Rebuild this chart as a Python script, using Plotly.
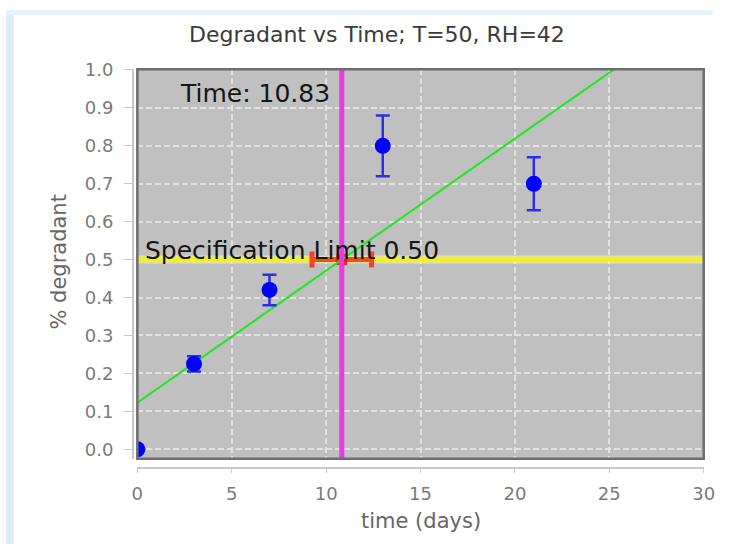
import plotly.graph_objects as go

# Stability study: degradant measured over time (T=50, RH=42)
time_days = [0, 3, 7, 13, 21]
degradant = [0.0, 0.225, 0.42, 0.80, 0.70]
degradant_err = [0.0, 0.02, 0.04, 0.08, 0.07]

# Linear trend through the measurements (endpoints of the fitted line)
fit_time = [0, 30]
fit_degradant = [0.123, 1.167]

# Specification limit and the time at which the trend crosses it
spec_limit = 0.50
cross_time = 10.83
cross_time_err = 1.58

x_ticks = [0, 5, 10, 15, 20, 25, 30]
y_ticks = [0.0, 0.1, 0.2, 0.3, 0.4, 0.5, 0.6, 0.7, 0.8, 0.9, 1.0]

# figure kept a little smaller than the 732x553 page so it never overflows;
# everything to the right/bottom of it is plain white anyway
W, H = 724, 545
FONT = "DejaVu Sans"


def px_x(v):
    """pixel column -> paper fraction"""
    return v / W


def px_y(v):
    """pixel row -> paper fraction"""
    return 1 - v / H


fig = go.Figure()

# specification limit band
fig.add_trace(go.Scatter(
    x=[x_ticks[0], x_ticks[-1]], y=[spec_limit, spec_limit], mode="lines",
    line=dict(color="rgba(248,248,150,0.6)", width=8), hoverinfo="skip",
    showlegend=False))
fig.add_trace(go.Scatter(
    x=[x_ticks[0], x_ticks[-1]], y=[spec_limit, spec_limit], mode="lines",
    line=dict(color="#f4f01c", width=3.5), hoverinfo="skip", showlegend=False))

# crossing point with its uncertainty in time
fig.add_trace(go.Scatter(
    x=[cross_time], y=[spec_limit], mode="markers",
    marker=dict(symbol="square", size=11, color="rgba(255,0,0,0.85)"),
    error_x=dict(type="data", array=[cross_time_err], color="rgba(255,20,0,0.75)",
                 thickness=5, width=8),
    showlegend=False))

# fitted trend
fig.add_trace(go.Scatter(
    x=fit_time, y=fit_degradant, mode="lines",
    line=dict(color="#1ee81e", width=2), showlegend=False))

# measurements
fig.add_trace(go.Scatter(
    x=time_days, y=degradant, mode="markers",
    marker=dict(size=16, color="#0000ff"),
    error_y=dict(type="data", array=degradant_err, color="#2d2de8",
                 thickness=2.5, width=7),
    showlegend=False))

grid = dict(showgrid=True, gridcolor="#e2e2e2", gridwidth=2, griddash="6px,3px",
            zeroline=False, showline=True, linecolor="#c8c8c8", linewidth=2,
            ticks="outside", tickcolor="#c8c8c8", tickwidth=1,
            ticklabeloverflow="allow",
            tickfont=dict(family=FONT, size=18, color="#7a7a7a"))

fig.update_layout(
    width=W, height=H,
    autosize=False,
    margin=dict(l=0, r=0, t=0, b=0),
    paper_bgcolor="white",
    plot_bgcolor="#c0c0c0",
    xaxis=dict(domain=[px_x(134.5), px_x(714.5)], range=[0, 30],
               anchor="free", position=px_y(467),
               tickvals=x_ticks, ticklen=4, ticklabelstandoff=6, **grid),
    yaxis=dict(domain=[px_y(458), px_y(60.5)], range=[-0.025, 1.0018],
               anchor="free", position=px_x(130),
               tickvals=y_ticks, tickformat=".1f", ticklen=8,
               ticklabelstandoff=7, **grid),
    shapes=[
        # light blue frame strips
        dict(type="rect", xref="paper", yref="paper", x0=0, x1=px_x(8), y0=0, y1=1,
             fillcolor="#dcedfa", line=dict(width=0), layer="below"),
        dict(type="rect", xref="paper", yref="paper", x0=0, x1=1, y0=px_y(5), y1=1,
             fillcolor="#e6f3fc", line=dict(width=0), layer="below"),
        # time marker
        dict(type="line", xref="x", yref="y domain", x0=cross_time, x1=cross_time,
             y0=0, y1=1, line=dict(color="#ea3ae6", width=5), layer="above"),
        # plot area border
        dict(type="rect", xref="x domain", yref="y domain", x0=0, x1=1, y0=0, y1=1,
             line=dict(color="#6e6e6e", width=2.5), layer="above"),
    ],
    annotations=[
        dict(text="Degradant vs Time; T=50, RH=42", xref="paper", yref="paper",
             x=px_x(380), y=px_y(25), xanchor="center", yanchor="middle",
             showarrow=False, font=dict(family=FONT, size=22, color="#3a3a3a")),
        dict(text="time (days)", xref="paper", yref="paper",
             x=px_x(425), y=px_y(522), xanchor="center", yanchor="middle",
             showarrow=False, font=dict(family=FONT, size=21, color="#666666")),
        dict(text="% degradant", xref="paper", yref="paper", textangle=-90,
             x=px_x(54), y=px_y(257), xanchor="center", yanchor="middle",
             showarrow=False, font=dict(family=FONT, size=21, color="#666666")),
        dict(text=f"Time: {cross_time:.2f}", xref="x", yref="y domain",
             x=cross_time, y=1, xanchor="right", yanchor="top", xshift=-10,
             yshift=-8, showarrow=False,
             font=dict(family=FONT, size=25, color="#151515")),
        dict(text=f"Specification Limit {spec_limit:.2f}", xref="x", yref="y",
             x=0, y=spec_limit, xanchor="left", yanchor="bottom", xshift=6,
             yshift=-7, showarrow=False,
             font=dict(family=FONT, size=25, color="#151515")),
    ],
)

fig.write_html("out.html", config={"displayModeBar": False})
